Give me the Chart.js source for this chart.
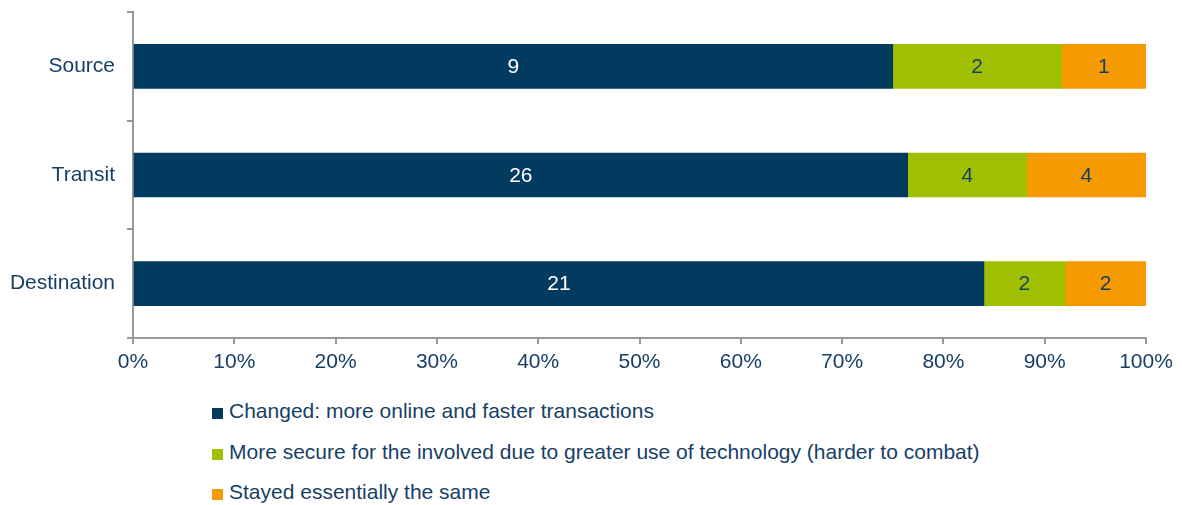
<!DOCTYPE html>
<html>
<head>
<meta charset="utf-8">
<script src="https://cdn.jsdelivr.net/npm/chart.js@4"></script>
<style>
  body { margin: 0; background: #fff; font-family: "Liberation Sans", Arial, sans-serif; }
  #wrap { position: relative; width: 1182px; height: 505px; }
  #chartBox { position: absolute; left: 0; top: 0; width: 1182px; height: 385px; }
  #legend { position: absolute; left: 212px; top: 391px; color: #173f66; font-size: 21px; }
  #legend div { height: 40.5px; line-height: 40.5px; white-space: nowrap; }
  #legend span { display: inline-block; width: 11px; height: 11px; margin-right: 6px; vertical-align: -1px; }
</style>
</head>
<body>
<div id="wrap">
  <div id="chartBox"><canvas id="routeChart"></canvas></div>
  <div id="legend"></div>
</div>
<script>
// Data
const categories = ["Source", "Transit", "Destination"];
const seriesNames = [
  "Changed: more online and faster transactions",
  "More secure for the involved due to greater use of technology (harder to combat)",
  "Stayed essentially the same"
];
const changed = [9, 26, 21];
const moreSecure = [2, 4, 2];
const stayedSame = [1, 4, 2];
const colors = ["#033a5f", "#a0bf00", "#f59a00"];
const labelColors = ["#ffffff", "#173f66", "#173f66"];

const counts = [changed, moreSecure, stayedSame];
const totals = categories.map((c, i) => changed[i] + moreSecure[i] + stayedSame[i]);

// legend as plain html list
const legendEl = document.getElementById("legend");
seriesNames.forEach(function (name, i) {
  const row = document.createElement("div");
  const box = document.createElement("span");
  box.style.background = colors[i];
  row.appendChild(box);
  row.appendChild(document.createTextNode(name));
  legendEl.appendChild(row);
});

// counts written in the middle of each segment
const barLabels = {
  id: "barLabels",
  afterDatasetsDraw(chart) {
    const ctx = chart.ctx;
    ctx.save();
    ctx.font = '21px "Liberation Sans", Arial, sans-serif';
    ctx.textAlign = "center";
    ctx.textBaseline = "middle";
    chart.data.datasets.forEach(function (ds, di) {
      chart.getDatasetMeta(di).data.forEach(function (bar, i) {
        const p = bar.getCenterPoint();
        ctx.fillStyle = labelColors[di];
        ctx.fillText(String(counts[di][i]), p.x, p.y + 1);
      });
    });
    ctx.restore();
  }
};

new Chart(document.getElementById("routeChart").getContext("2d"), {
  type: "bar",
  data: {
    labels: categories,
    datasets: counts.map(function (arr, di) {
      return {
        label: seriesNames[di],
        data: arr.map((v, i) => (v / totals[i]) * 100),
        backgroundColor: colors[di],
        barThickness: 44
      };
    })
  },
  options: {
    indexAxis: "y",
    responsive: true,
    maintainAspectRatio: false,
    animation: false,
    layout: { padding: { top: 12, right: 36, left: 0, bottom: 0 } },
    plugins: { legend: { display: false }, tooltip: { enabled: false } },
    scales: {
      x: {
        stacked: true,
        min: 0,
        max: 100,
        border: { color: "#999999", width: 2 },
        grid: { drawOnChartArea: false, drawTicks: true, tickLength: 6, color: "#999999", lineWidth: 2 },
        ticks: {
          stepSize: 10,
          padding: 6,
          color: "#173f66",
          font: { family: '"Liberation Sans", Arial, sans-serif', size: 21 },
          callback: (v) => v + "%"
        },
        afterFit: (scale) => { scale.height = 47; }
      },
      y: {
        stacked: true,
        border: { color: "#999999", width: 2 },
        grid: { drawOnChartArea: false, drawTicks: true, tickLength: 6, color: "#999999", lineWidth: 2, offset: true },
        ticks: {
          padding: 12,
          color: "#173f66",
          font: { family: '"Liberation Sans", Arial, sans-serif', size: 21 }
        },
        afterFit: (scale) => {
          scale.width = 133;
          scale.paddingTop = 0;
          scale.paddingBottom = 0;
        }
      }
    }
  },
  plugins: [barLabels]
});
</script>
</body>
</html>
